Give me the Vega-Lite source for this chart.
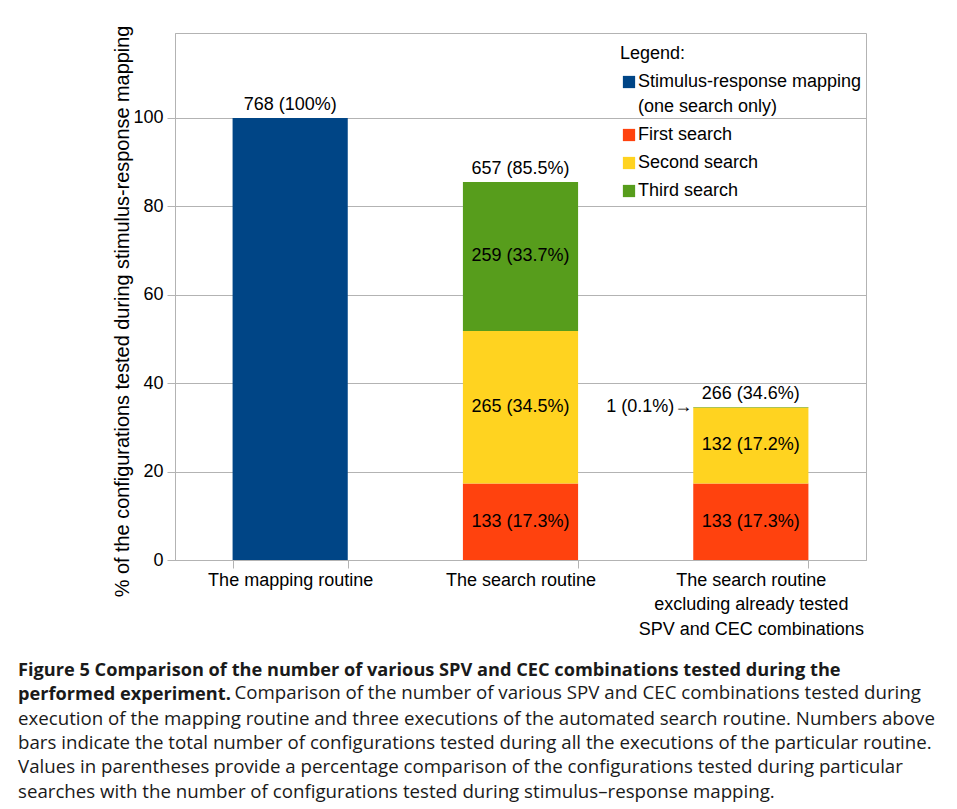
{
  "$schema": "https://vega.github.io/schema/vega-lite/v6.json",
  "width": 691,
  "height": 527,
  "autosize": {"type": "none"},
  "padding": {"left": 175, "top": 33, "right": 91, "bottom": 249},
  "background": "white",
  "config": {
    "font": "Liberation Sans",
    "view": {"stroke": "#b3b3b3", "strokeWidth": 1},
    "axis": {
      "labelFont": "Liberation Sans",
      "labelColor": "black",
      "titleColor": "black",
      "titleFont": "Liberation Sans",
      "titleFontWeight": "normal",
      "gridColor": "#b3b3b3",
      "domainColor": "#b3b3b3",
      "tickColor": "#b3b3b3"
    }
  },
  "title": {
    "text": ["Figure 5 Comparison of the number of various SPV and CEC combinations tested during the", "performed experiment."],
    "subtitle": ["execution of the mapping routine and three executions of the automated search routine. Numbers above", "bars indicate the total number of configurations tested during all the executions of the particular routine.", "Values in parentheses provide a percentage comparison of the configurations tested during particular", "searches with the number of configurations tested during stimulus\u2013response mapping."],
    "orient": "bottom",
    "anchor": "start",
    "frame": "group",
    "dx": -157,
    "offset": -40,
    "font": "Open Sans",
    "fontSize": 18.2,
    "fontWeight": "bold",
    "lineHeight": 24.5,
    "color": "#1a1a1a",
    "subtitleFont": "Open Sans",
    "subtitleFontSize": 18.7,
    "subtitleFontWeight": "normal",
    "subtitleLineHeight": 24.3,
    "subtitlePadding": 5.3,
    "subtitleColor": "#1a1a1a"
  },
  "datasets": {
    "segments": [
      {"routine": "The mapping routine", "series": "Stimulus-response mapping", "order": 0, "pct": 100, "label": ""},
      {"routine": "The search routine", "series": "First search", "order": 1, "pct": 17.3, "label": "133 (17.3%)"},
      {"routine": "The search routine", "series": "Second search", "order": 2, "pct": 34.5, "label": "265 (34.5%)"},
      {"routine": "The search routine", "series": "Third search", "order": 3, "pct": 33.7, "label": "259 (33.7%)"},
      {"routine": "The search routine excluding already tested SPV and CEC combinations", "series": "First search", "order": 1, "pct": 17.3, "label": "133 (17.3%)"},
      {"routine": "The search routine excluding already tested SPV and CEC combinations", "series": "Second search", "order": 2, "pct": 17.2, "label": "132 (17.2%)"},
      {"routine": "The search routine excluding already tested SPV and CEC combinations", "series": "Third search", "order": 3, "pct": 0.1, "label": ""}
    ],
    "totals": [
      {"routine": "The mapping routine", "total": 100, "label": "768 (100%)"},
      {"routine": "The search routine", "total": 85.5, "label": "657 (85.5%)"},
      {"routine": "The search routine excluding already tested SPV and CEC combinations", "total": 34.6, "label": "266 (34.6%)"}
    ],
    "notes": [
      {"routine": "The search routine excluding already tested SPV and CEC combinations", "value": 34.6, "label": "1 (0.1%)\u2192"}
    ]
  },
  "layer": [
    {
      "data": {"name": "segments"},
      "mark": {"type": "bar"},
      "encoding": {
        "x": {
          "field": "routine",
          "type": "nominal",
          "sort": null,
          "scale": {"domain": ["The mapping routine", "The search routine", "The search routine excluding already tested SPV and CEC combinations"], "paddingInner": 0.5, "paddingOuter": 0.25},
          "axis": {
            "title": "Comparison of the number of various SPV and CEC combinations tested during",
            "titleFont": "Open Sans",
            "titleFontSize": 18.7,
            "titleFontWeight": "normal",
            "titleColor": "#1a1a1a",
            "titleAlign": "left",
            "titleAnchor": "start",
            "titleBaseline": "middle",
            "titleX": 59,
            "titleY": 132,
            "titleLimit": 800,
            "labelAngle": 0,
            "labelFontSize": 18,
            "labelPadding": 3,
            "labelLimit": 400,
            "labelLineHeight": 24.5,
            "tickSize": 8,
            "tickBand": "extent",
            "grid": false,
            "labelExpr": "datum.label == 'The search routine excluding already tested SPV and CEC combinations' ? ['The search routine', 'excluding already tested', 'SPV and CEC combinations'] : datum.label"
          }
        },
        "y": {
          "field": "pct",
          "type": "quantitative",
          "stack": "zero",
          "scale": {"domain": [0, 119.2], "nice": false},
          "axis": {
            "title": "% of the configurations tested during stimulus-response mapping",
            "titleFontSize": 19.9,
            "titleX": -53,
            "titleY": 278,
            "titleBaseline": "middle",
            "values": [0, 20, 40, 60, 80, 100],
            "labelFontSize": 18,
            "labelPadding": 4,
            "tickSize": 8,
            "grid": true
          }
        },
        "color": {
          "field": "series",
          "type": "nominal",
          "scale": {"domain": ["Stimulus-response mapping", "First search", "Second search", "Third search"], "range": ["#004586", "#ff420e", "#ffd320", "#579d1c"]},
          "legend": {
            "orient": "none",
            "legendX": 445,
            "legendY": 12,
            "padding": 0,
            "title": "Legend:",
            "titleFont": "Liberation Sans",
            "titleFontSize": 18,
            "titleFontWeight": "normal",
            "titleColor": "black",
            "titlePadding": 10,
            "labelFont": "Liberation Sans",
            "labelFontSize": 18,
            "labelColor": "black",
            "labelLimit": 400,
            "labelOffset": 0,
            "symbolType": "square",
            "symbolSize": 150,
            "symbolStrokeWidth": 0,
            "symbolOpacity": 1,
            "rowPadding": 10,
            "labelExpr": "datum.label == 'Stimulus-response mapping' ? ['Stimulus-response mapping', '(one search only)'] : datum.label",
            "encode": {"labels": {"update": {"lineHeight": {"value": 25}}}}
          }
        },
        "order": {"field": "order", "type": "quantitative"}
      }
    },
    {
      "data": {"name": "segments"},
      "mark": {"type": "text", "fontSize": 18, "color": "black", "baseline": "middle"},
      "encoding": {
        "x": {"field": "routine", "type": "nominal", "sort": null},
        "y": {"field": "pct", "type": "quantitative", "stack": "zero", "bandPosition": 0.5},
        "text": {"field": "label"},
        "order": {"field": "order", "type": "quantitative"}
      }
    },
    {
      "data": {"name": "totals"},
      "mark": {"type": "text", "fontSize": 18, "color": "black", "baseline": "bottom", "dy": -4},
      "encoding": {
        "x": {"field": "routine", "type": "nominal", "sort": null},
        "y": {"field": "total", "type": "quantitative"},
        "text": {"field": "label"}
      }
    },
    {
      "data": {"name": "notes"},
      "mark": {"type": "text", "fontSize": 18, "color": "black", "baseline": "middle", "align": "right", "dx": -1},
      "encoding": {
        "x": {"field": "routine", "type": "nominal", "sort": null, "bandPosition": 0},
        "y": {"field": "value", "type": "quantitative"},
        "text": {"field": "label"}
      }
    }
  ]
}
